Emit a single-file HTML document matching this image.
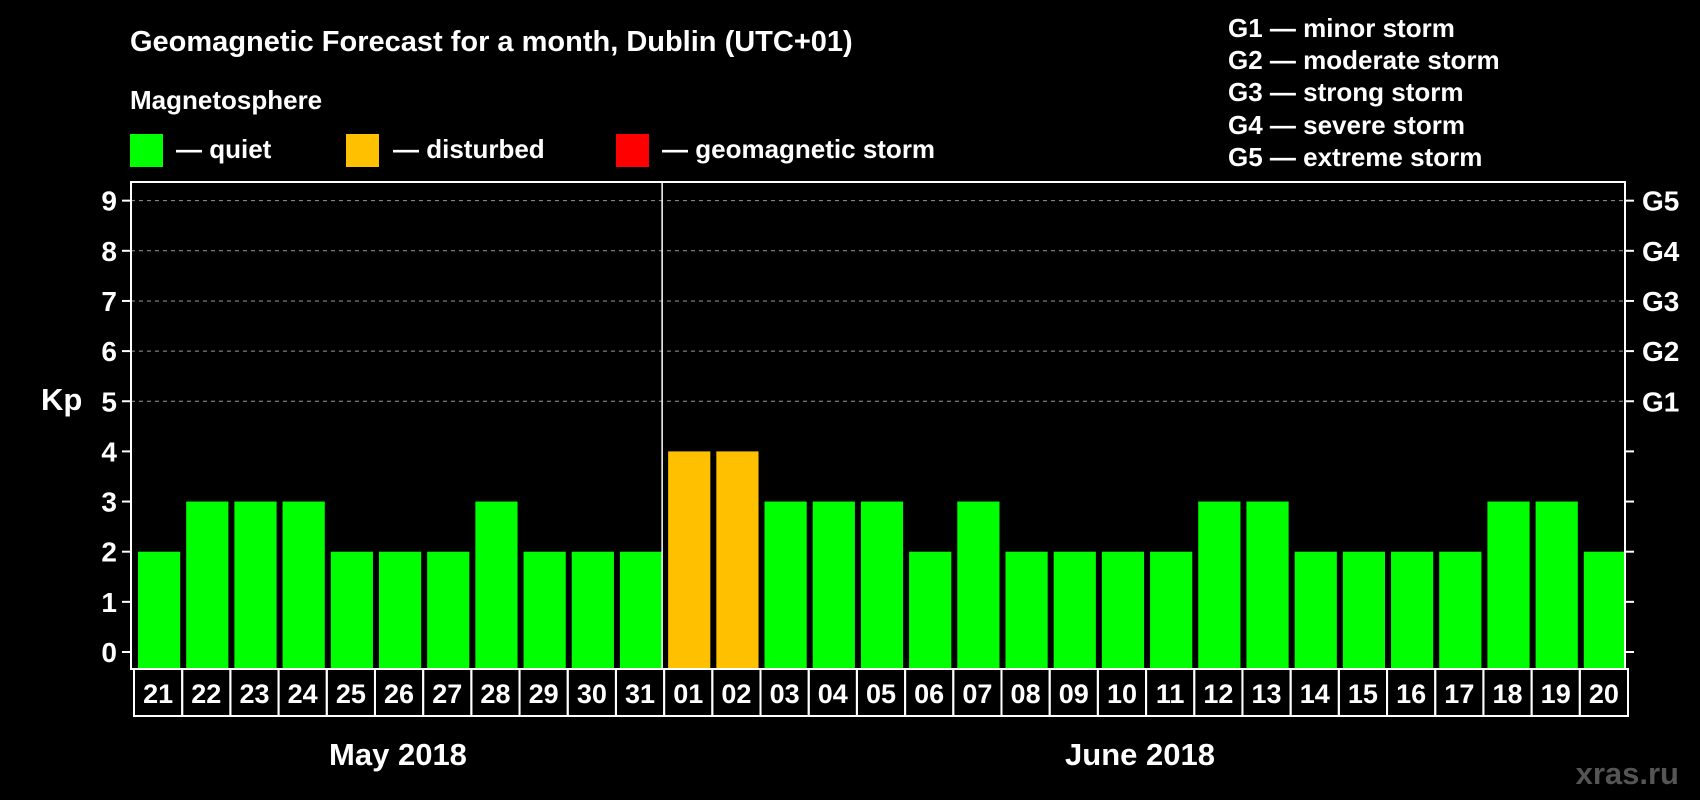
<!DOCTYPE html>
<html><head><meta charset="utf-8"><style>
body{margin:0;background:#000;width:1700px;height:800px;overflow:hidden}
svg{display:block;font-family:"Liberation Sans",Arial,sans-serif;font-weight:bold}
</style></head><body>
<svg id="c" width="1700" height="800" xmlns="http://www.w3.org/2000/svg">
<text x="130" y="51" font-size="29" fill="#fff">Geomagnetic Forecast for a month, Dublin (UTC+01)</text>
<text x="130" y="109" font-size="26" fill="#fff">Magnetosphere</text>
<rect x="130" y="134" width="33" height="33" fill="#00ff00"/>
<text x="176" y="158" font-size="26" fill="#fff">— quiet</text>
<rect x="346" y="134" width="33" height="33" fill="#ffc000"/>
<text x="393" y="158" font-size="26" fill="#fff">— disturbed</text>
<rect x="616" y="134" width="33" height="33" fill="#ff0000"/>
<text x="662" y="158" font-size="26" fill="#fff">— geomagnetic storm</text>
<g font-size="26" fill="#fff">
<text x="1228" y="37">G1 — minor storm</text>
<text x="1228" y="69">G2 — moderate storm</text>
<text x="1228" y="101">G3 — strong storm</text>
<text x="1228" y="134">G4 — severe storm</text>
<text x="1228" y="166">G5 — extreme storm</text>
</g>
<text x="41" y="410" font-size="31" fill="#fff">Kp</text>
<text x="398" y="765" font-size="31" fill="#fff" text-anchor="middle">May 2018</text>
<text x="1140" y="765" font-size="31" fill="#fff" text-anchor="middle">June 2018</text>
<text x="1679" y="784" font-size="31" fill="#555" text-anchor="end">xras.ru</text>
<g id="plot"></g>
</svg>
<script>
const days=["21","22","23","24","25","26","27","28","29","30","31","01","02","03","04","05","06","07","08","09","10","11","12","13","14","15","16","17","18","19","20"];
const kp=[2,3,3,3,2,2,2,3,2,2,2,4,4,3,3,3,2,3,2,2,2,2,3,3,2,2,2,2,3,3,2];
const yTicks=[0,1,2,3,4,5,6,7,8,9];
const gLabels=["G1","G2","G3","G4","G5"];
const gLevels=[5,6,7,8,9];
const NS="http://www.w3.org/2000/svg";
const L=131,R=1625,T=182,B=669,Y0=652,UNIT=50.15;
const slot=(R-L)/days.length;
const y=v=>Y0-v*UNIT;
const x=i=>L+i*slot;
const g=document.getElementById('plot');
function mk(t,a){const e=document.createElementNS(NS,t);for(const k in a)e.setAttribute(k,a[k]);g.appendChild(e);return e;}
yTicks.forEach(v=>{
 if(v>=5){const l=mk('line',{x1:L,x2:R,y1:y(v),y2:y(v),stroke:'#999','stroke-dasharray':'4 4','stroke-width':1});
 
 }
 const t1=mk('line',{x1:L-9,x2:L,y1:y(v),y2:y(v),stroke:'#fff','stroke-width':2});
 
 
 const t2=mk('line',{x1:R,x2:R+9,y1:y(v),y2:y(v),stroke:'#fff','stroke-width':2});
 
 
 const tx=mk('text',{x:117,y:y(v)+10,'font-size':28,fill:'#fff','text-anchor':'end'});
 tx.textContent=v;
 
 
});
gLabels.forEach((s,i)=>{
 const tx=mk('text',{x:1642,y:y(gLevels[i])+10,'font-size':28,fill:'#fff'});
 tx.textContent=s;
 
 
});
kp.forEach((v,i)=>{
 const col=v>=5?'#ff0000':(v>=4?'#ffc000':'#00ff00');
 const r=mk('rect',{x:x(i)+7,y:y(v),width:slot-6,height:B-y(v),fill:col});
 
 
 const bx=mk('rect',{x:x(i)+3,y:B,width:slot,height:47,fill:'none',stroke:'#fff','stroke-width':2});
 
 
 const t=mk('text',{x:x(i)+3+slot/2,y:B+34,'font-size':27,fill:'#fff','text-anchor':'middle'});
 t.textContent=days[i];
 
 
});
const fr=mk('rect',{x:L,y:T,width:R-L,height:B-T,fill:'none',stroke:'#fff','stroke-width':2});


const mi=days.indexOf("01");
const ml=mk('line',{x1:x(mi)+1,x2:x(mi)+1,y1:T,y2:B,stroke:'#fff','stroke-width':1.5});


</script>
</body></html>
